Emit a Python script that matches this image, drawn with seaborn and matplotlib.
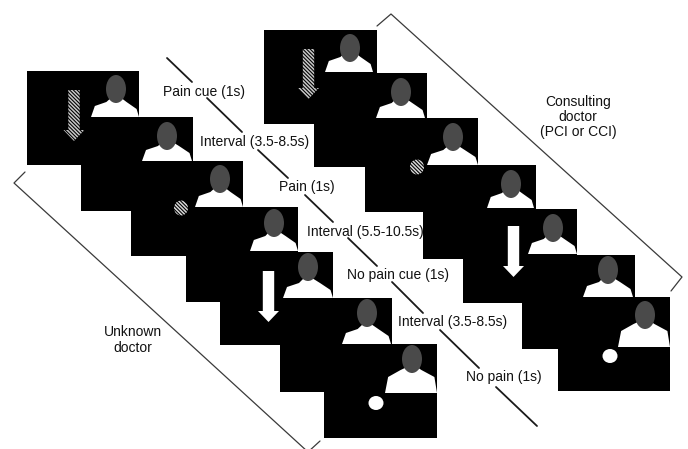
import matplotlib
matplotlib.use("Agg")
import matplotlib.pyplot as plt
import pandas as pd
import seaborn as sns
from matplotlib.patches import Ellipse, Polygon, Rectangle

sns.set_theme(style="white")
plt.rcParams['font.family'] = ['Liberation Sans', 'DejaVu Sans']
plt.rcParams['hatch.linewidth'] = 1.1

# Slides in pixels: left stack then right stack
slide_left = [27, 81, 131, 186, 220, 280, 324, 264, 314, 365, 423, 463, 522, 558]
slide_top = [71, 117, 161, 207, 252, 298, 344, 30, 73, 118, 165, 209, 255, 297]
slide_right = [139, 193, 243, 298, 333, 392, 437, 377, 427, 478, 536, 577, 635, 670]
slide_bottom = [165, 211, 256, 302, 345, 392, 438, 124, 167, 212, 259, 303, 349, 391]

head_x = [116, 167, 220, 274, 308, 367, 412, 350, 401, 453, 511, 553, 608, 645]
head_y = [89, 136, 179, 223, 267, 313, 359, 48, 92, 137, 184, 228, 270, 315]
torso_left = [91, 142, 195, 250, 283, 342, 385, 325, 376, 427, 487, 528, 583, 618]
torso_right = [139, 192, 243, 298, 333, 391, 437, 373, 425, 478, 534, 577, 633, 670]
torso_bottom = [117, 161, 207, 251, 298, 344, 393, 72, 118, 165, 208, 254, 297, 347]

# Cues
hatched_arrow_x = [74, 308.5]
hatched_arrow_top = [90, 49]
hatched_arrow_tip = [141, 99]
white_arrow_x = [268.5, 513.5]
white_arrow_top = [271, 226]
white_arrow_tip = [322, 277]
hatched_dot_x = [181, 417]
hatched_dot_y = [208, 167]
white_dot_x = [376, 610]
white_dot_y = [403, 356]

# Timeline dashes between the labels
dash_x0 = [167, 207, 258, 305, 348, 392, 440, 496]
dash_y0 = [58, 98, 150, 195, 238, 282, 330, 387]
dash_x1 = [192, 242, 288, 333, 377, 423, 479, 537]
dash_y1 = [82, 132, 178, 222, 266, 313, 368, 426]

# Brackets
bracket_left_x = [25, 14, 308, 320]
bracket_left_y = [172, 183, 452, 441]
bracket_right_x = [377, 391, 682, 671]
bracket_right_y = [26, 14, 277, 291]

step_labels = ['Pain cue (1s)', 'Interval (3.5-8.5s)', 'Pain (1s)', 'Interval (5.5-10.5s)',
               'No pain cue (1s)', 'Interval (3.5-8.5s)', 'No pain (1s)']
step_x = [204, 255, 307, 365, 398, 453, 503.5]
step_y = [92, 142, 187, 232, 275, 322, 377]

HEAD = '#4a4a4a'
LINE = '#3a3a3a'
TEXT = '#111111'
HATCH = '\\' * 9

fig, ax = plt.subplots(figsize=(6.88, 4.49), dpi=100)
fig.subplots_adjust(0, 0, 1, 1)
ax.set_xlim(0, 688)
ax.set_ylim(449, 0)
ax.axis('off')


def person(hx, hy, tl, tr, tb, wide):
    # torso first, the head sits on top of the neck
    w = tr - tl
    if wide:
        top = tb - 23
        pts = [(tl, tb), (tl + 0.06 * w, top + 7), (tl + 0.3 * w, top), (hx - 5, top - 3),
               (hx + 5, top - 3), (tr - 0.3 * w, top), (tr - 0.05 * w, top + 7), (tr, tb)]
    else:
        top = tb - 15
        pts = [(tl, tb), (tl + 0.08 * w, top + 4), (tl + 0.32 * w, top), (hx - 4, top - 5),
               (hx + 4, top - 5), (tr - 0.26 * w, top), (tr - 0.05 * w, top + 7), (tr, tb)]
    ax.add_patch(Polygon(pts, closed=True, fc='white', ec='none', zorder=2))
    ax.add_patch(Ellipse((hx, hy), 20, 28, fc=HEAD, ec='none', zorder=3))


def arrow(x, top, tip, **kw):
    half_shaft, half_head, head_len = 5.7, 10.5, 11
    pts = [(x - half_shaft, top), (x + half_shaft, top), (x + half_shaft, tip - head_len),
           (x + half_head, tip - head_len), (x, tip), (x - half_head, tip - head_len),
           (x - half_shaft, tip - head_len)]
    ax.add_patch(Polygon(pts, closed=True, zorder=4, **kw))


for i in range(len(slide_left)):
    ax.add_patch(Rectangle((slide_left[i], slide_top[i]), slide_right[i] - slide_left[i],
                           slide_bottom[i] - slide_top[i], fc='black', ec='none', zorder=1))
for i in range(len(slide_left)):
    person(head_x[i], head_y[i], torso_left[i], torso_right[i], torso_bottom[i], i in (6, 13))

for x, t, e in zip(hatched_arrow_x, hatched_arrow_top, hatched_arrow_tip):
    arrow(x, t, e, fc='black', ec='#c8c8c8', hatch=HATCH, lw=0)
for x, t, e in zip(white_arrow_x, white_arrow_top, white_arrow_tip):
    arrow(x, t, e, fc='white', ec='none')
for x, y in zip(hatched_dot_x, hatched_dot_y):
    ax.add_patch(Ellipse((x, y), 14, 15, fc='black', ec='#d8d8d8', hatch=HATCH, lw=0, zorder=4))
for x, y in zip(white_dot_x, white_dot_y):
    ax.add_patch(Ellipse((x, y), 15, 14, fc='white', ec='none', zorder=4))

# timeline dashes and brackets go through seaborn
for x0, y0, x1, y1 in zip(dash_x0, dash_y0, dash_x1, dash_y1):
    seg = pd.DataFrame({'x': [x0, x1], 'y': [y0, y1]})
    sns.lineplot(data=seg, x='x', y='y', sort=False, estimator=None, color='#1a1a1a',
                 lw=1.3, ax=ax, zorder=5)
for bx, by in [(bracket_left_x, bracket_left_y), (bracket_right_x, bracket_right_y)]:
    seg = pd.DataFrame({'x': bx, 'y': by})
    sns.lineplot(data=seg, x='x', y='y', sort=False, estimator=None, color=LINE,
                 lw=0.9, ax=ax, zorder=5)
ax.set_xlim(0, 688)
ax.set_ylim(449, 0)

for s, x, y in zip(step_labels, step_x, step_y):
    ax.text(x, y, s, ha='center', va='center', fontsize=10, color=TEXT, zorder=6)
ax.text(578, 117, 'Consulting\ndoctor\n(PCI or CCI)', ha='center', va='center',
        fontsize=10, color=TEXT, linespacing=1.1, zorder=6)
ax.text(133, 340, 'Unknown\ndoctor', ha='center', va='center',
        fontsize=10, color=TEXT, linespacing=1.1, zorder=6)

fig.savefig('out.png', dpi=100)
